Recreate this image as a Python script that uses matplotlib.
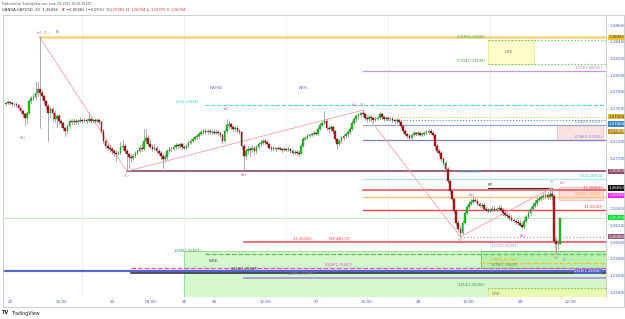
import matplotlib.pyplot as plt
from matplotlib.patches import Rectangle
import matplotlib.transforms as mtransforms

# ---- candle data (30 min bars, index 0 = June 22 00:00) ----
first_idx = -2
first_open = 1.27655
closes = [
    1.27663, 1.27675, 1.27663, 1.27651, 1.27655, 1.27639, 1.27604, 1.27568, 1.27532, 1.27485,
    1.27544, 1.27687, 1.27723, 1.27735, 1.27782, 1.27830, 1.27782, 1.27746, 1.27687, 1.27627,
    1.27544, 1.27592, 1.27544, 1.27473, 1.27508, 1.27449, 1.27425, 1.27365, 1.27330, 1.27389,
    1.27449, 1.27437, 1.27449, 1.27437, 1.27449, 1.27461, 1.27449, 1.27461, 1.27449, 1.27473,
    1.27449, 1.27461, 1.27449, 1.27461, 1.27437, 1.27330, 1.27211, 1.27151, 1.27127, 1.27115,
    1.27092, 1.27068, 1.27056, 1.27068, 1.27139, 1.27151, 1.27092, 1.27056, 1.27020, 1.27008,
    1.27032, 1.27068, 1.27092, 1.27127, 1.27115, 1.27211, 1.27246, 1.27175, 1.27139, 1.27115,
    1.27127, 1.27092, 1.27068, 1.27032, 1.26996, 1.27020, 1.27092, 1.27115, 1.27118, 1.27139,
    1.27163, 1.27151, 1.27175, 1.27139, 1.27127, 1.27151, 1.27187, 1.27211, 1.27235, 1.27258,
    1.27270, 1.27294, 1.27318, 1.27330, 1.27318, 1.27330, 1.27318, 1.27322, 1.27306, 1.27318,
    1.27306, 1.27282, 1.27211, 1.27330, 1.27401, 1.27413, 1.27377, 1.27354, 1.27365, 1.27330,
    1.27318, 1.27151, 1.27032, 1.27092, 1.27115, 1.27104, 1.27127, 1.27092, 1.27139, 1.27175,
    1.27187, 1.27211, 1.27199, 1.27175, 1.27127, 1.27115, 1.27127, 1.27115, 1.27127, 1.27115,
    1.27104, 1.27115, 1.27104, 1.27115, 1.27092, 1.27068, 1.27080, 1.27068, 1.27056, 1.27151,
    1.27235, 1.27246, 1.27270, 1.27282, 1.27294, 1.27306, 1.27294, 1.27354, 1.27401, 1.27425,
    1.27449, 1.27365, 1.27354, 1.27377, 1.27330, 1.27235, 1.27175, 1.27211, 1.27246, 1.27270,
    1.27294, 1.27318, 1.27354, 1.27425, 1.27473, 1.27508, 1.27520, 1.27544, 1.27532, 1.27485,
    1.27473, 1.27496, 1.27485, 1.27461, 1.27473, 1.27485, 1.27532, 1.27496, 1.27473, 1.27485,
    1.27473, 1.27478, 1.27461, 1.27449, 1.27461, 1.27437, 1.27389, 1.27330, 1.27294, 1.27270,
    1.27246, 1.27282, 1.27306, 1.27294, 1.27306, 1.27282, 1.27294, 1.27306, 1.27318, 1.27330,
    1.27306, 1.27282, 1.27151, 1.27092, 1.27068, 1.26996, 1.26949, 1.26877, 1.26734, 1.26615,
    1.26520, 1.26377, 1.26235, 1.26163, 1.26115, 1.26235, 1.26354, 1.26425, 1.26461, 1.26485,
    1.26508, 1.26496, 1.26461, 1.26437, 1.26449, 1.26401, 1.26389, 1.26377, 1.26389, 1.26401,
    1.26389, 1.26401, 1.26413, 1.26389, 1.26354, 1.26330, 1.26318, 1.26294, 1.26270, 1.26258,
    1.26246, 1.26235, 1.26211, 1.26187, 1.26258, 1.26306, 1.26354, 1.26401, 1.26437, 1.26473,
    1.26508, 1.26520, 1.26544, 1.26556, 1.26568, 1.26544, 1.26580, 1.26556, 1.26020, 1.25976,
    1.25983, 1.26294,
]
highs = [
    1.2768, 1.2770, 1.2769, 1.2768, 1.2767, 1.2767, 1.2765, 1.2762, 1.2758, 1.2755,
    1.2756, 1.2770, 1.2775, 1.2778, 1.2793, 1.2792, 1.28451, 1.2782, 1.2776, 1.2770,
    1.2765, 1.2762, 1.2762, 1.2757, 1.2753, 1.2753, 1.2747, 1.2744, 1.2738, 1.2741,
    1.2747, 1.2747, 1.2747, 1.2748, 1.2746, 1.2750, 1.2748, 1.2749, 1.2748, 1.2756,
    1.2749, 1.2748, 1.2748, 1.2749, 1.2748, 1.2745, 1.2735, 1.2723, 1.2718, 1.2716,
    1.2714, 1.2712, 1.2710, 1.2709, 1.2720, 1.2722, 1.2717, 1.2711, 1.2707, 1.2705,
    1.2706, 1.2709, 1.2712, 1.2716, 1.2718, 1.2735, 1.2736, 1.2728, 1.2722, 1.2717,
    1.2718, 1.2715, 1.2712, 1.2709, 1.2706, 1.2705, 1.2711, 1.2714, 1.2714, 1.2716,
    1.2719, 1.2718, 1.2719, 1.2719, 1.2716, 1.2717, 1.2721, 1.2723, 1.2726, 1.2728,
    1.2729, 1.2732, 1.2734, 1.2736, 1.2735, 1.2735, 1.2735, 1.2734, 1.2734, 1.2734,
    1.2734, 1.2732, 1.2729, 1.2735, 1.2747, 1.2745, 1.2743, 1.2740, 1.2739, 1.2739,
    1.2735, 1.2733, 1.2717, 1.2712, 1.2715, 1.2714, 1.2716, 1.2715, 1.2716, 1.2720,
    1.2722, 1.2724, 1.2723, 1.2722, 1.2719, 1.2715, 1.2715, 1.2714, 1.2715, 1.2714,
    1.2713, 1.2714, 1.2713, 1.2714, 1.2713, 1.2711, 1.2710, 1.2710, 1.2709, 1.2717,
    1.2726, 1.2727, 1.2729, 1.2730, 1.2731, 1.2733, 1.2733, 1.2738, 1.2743, 1.2745,
    1.2757, 1.2747, 1.2739, 1.2740, 1.2739, 1.2734, 1.2725, 1.2723, 1.2727, 1.2729,
    1.2731, 1.2734, 1.2738, 1.2745, 1.2750, 1.2753, 1.2755, 1.2756, 1.2758, 1.2755,
    1.2750, 1.2752, 1.2752, 1.2750, 1.2750, 1.2751, 1.2756, 1.2755, 1.2751, 1.2751,
    1.2750, 1.2750, 1.2750, 1.2748, 1.2749, 1.2748, 1.2745, 1.2740, 1.2735, 1.2731,
    1.2729, 1.2730, 1.2733, 1.2732, 1.2733, 1.2732, 1.2731, 1.2733, 1.2734, 1.2735,
    1.2735, 1.2733, 1.2730, 1.2717, 1.2712, 1.2709, 1.2702, 1.2697, 1.2690, 1.2675,
    1.2664, 1.2654, 1.2640, 1.2626, 1.2619, 1.2626, 1.2638, 1.2645, 1.2649, 1.2652,
    1.2655, 1.2653, 1.2652, 1.2648, 1.2647, 1.2647, 1.2642, 1.2641, 1.2641, 1.2643,
    1.2643, 1.2642, 1.2644, 1.2644, 1.2641, 1.2637, 1.2635, 1.2634, 1.2632, 1.2629,
    1.2628, 1.2627, 1.2626, 1.2623, 1.2628, 1.2633, 1.2638, 1.2643, 1.2647, 1.2650,
    1.2654, 1.2655, 1.2657, 1.2659, 1.2661, 1.2660, 1.2664, 1.26651, 1.2658, 1.2605,
    1.2603, 1.26294,
]
lows = [
    1.2764, 1.2765, 1.2765, 1.2763, 1.2763, 1.2762, 1.2759, 1.2755, 1.2750, 1.2740,
    1.2743, 1.2753, 1.2767, 1.2770, 1.2772, 1.2775, 1.2737, 1.2772, 1.2766, 1.2760,
    1.2721, 1.2750, 1.2745, 1.2744, 1.2738, 1.2742, 1.2738, 1.2734, 1.2727, 1.2731,
    1.2737, 1.2742, 1.2742, 1.2742, 1.2742, 1.2744, 1.2743, 1.2744, 1.2743, 1.2744,
    1.2743, 1.2744, 1.2743, 1.2744, 1.2742, 1.2731, 1.2719, 1.2713, 1.2710, 1.2708,
    1.2706, 1.2703, 1.2697, 1.2704, 1.2705, 1.2711, 1.2707, 1.26850, 1.2689, 1.2696,
    1.2699, 1.2702, 1.2705, 1.2708, 1.2709, 1.2710, 1.2719, 1.2715, 1.2711, 1.2709,
    1.2710, 1.2706, 1.2704, 1.2700, 1.2689, 1.2697, 1.2700, 1.2707, 1.2709, 1.2710,
    1.2712, 1.2713, 1.2713, 1.2712, 1.2711, 1.2711, 1.2714, 1.2717, 1.2720, 1.2722,
    1.2724, 1.2725, 1.2728, 1.2730, 1.2730, 1.2730, 1.2730, 1.2730, 1.2729, 1.2729,
    1.2728, 1.2726, 1.2719, 1.2720, 1.2731, 1.2737, 1.2735, 1.2733, 1.2733, 1.2731,
    1.2729, 1.2712, 1.2688, 1.2700, 1.2705, 1.2703, 1.2708, 1.2706, 1.2707, 1.2712,
    1.2715, 1.2717, 1.2718, 1.2715, 1.2711, 1.2709, 1.2710, 1.2709, 1.2710, 1.2710,
    1.2708, 1.2709, 1.2709, 1.2709, 1.2707, 1.2705, 1.2705, 1.2704, 1.2703, 1.2705,
    1.2714, 1.2722, 1.2723, 1.2726, 1.2727, 1.2728, 1.2728, 1.2728, 1.2734, 1.2739,
    1.2741, 1.2734, 1.2732, 1.2733, 1.2731, 1.2721, 1.2712, 1.2715, 1.2719, 1.2722,
    1.2725, 1.2726, 1.2730, 1.2734, 1.2741, 1.2744, 1.2748, 1.2750, 1.2750, 1.2746,
    1.2744, 1.2745, 1.2746, 1.2744, 1.2745, 1.2746, 1.2747, 1.2748, 1.2745, 1.2746,
    1.2746, 1.2746, 1.2744, 1.2743, 1.2743, 1.2742, 1.2737, 1.2731, 1.2727, 1.2725,
    1.2722, 1.2723, 1.2727, 1.2728, 1.2728, 1.2727, 1.2727, 1.2728, 1.2729, 1.2730,
    1.2729, 1.2726, 1.2713, 1.2707, 1.2704, 1.2697, 1.2692, 1.2685, 1.2671, 1.2659,
    1.2649, 1.2635, 1.2620, 1.2613, 1.26066, 1.2610, 1.2622, 1.2634, 1.2641, 1.2645,
    1.2647, 1.2648, 1.2644, 1.2642, 1.2642, 1.2638, 1.2637, 1.2636, 1.2636, 1.2637,
    1.2637, 1.2637, 1.2638, 1.2637, 1.2633, 1.2631, 1.2630, 1.2627, 1.2625, 1.2624,
    1.2622, 1.2621, 1.2619, 1.2616, 1.2617, 1.2624, 1.2629, 1.2633, 1.2638, 1.2642,
    1.2645, 1.2649, 1.2650, 1.2652, 1.2653, 1.2652, 1.2652, 1.2653, 1.2600, 1.25865,
    1.2592, 1.25979,
]

# ---- time axis ----
tick_idx = [0, 24, 48, 66, 82, 96, 120, 144, 168, 192, 216, 240, 264]
tick_lbl = ['22', '12:00', '23', '09:00', '25', '26', '12:00', '27', '12:00',
            '28', '12:00', '29', '12:00']
session_idx = [34, 82, 130, 178, 226]
price_ticks = [1.286, 1.284, 1.282, 1.280, 1.278, 1.276, 1.274, 1.272, 1.270,
               1.268, 1.266, 1.264, 1.262, 1.260, 1.258, 1.256, 1.254]
hidden_ticks = [1.274, 1.268, 1.266]   # covered by price tags

# ---- wave count zigzag ----
zig_idx = [14, 55, 166, 212, 255, 257]
zig_px = [1.28451, 1.26850, 1.27580, 1.26066, 1.26651, 1.25865]

# ---- horizontal levels: price, start idx, end idx, color, style, width ----
RIGHT = 281
levels = [
    (1.28451, 14, RIGHT, '#f6d37c', '-', 1.8),
    (1.28426, 225, RIGHT, '#66c266', ':', 0.9),
    (1.28138, 225, RIGHT, '#66c266', ':', 0.9),
    (1.28050, 166, RIGHT, '#c79bd8', '-', 0.9),
    (1.27641, 92, RIGHT, '#4dd8e8', '--', 0.8),
    (1.27504, 177, RIGHT, '#f0c060', ':', 0.8),
    (1.27464, 177, RIGHT, '#4a8fd8', ':', 0.8),
    (1.27404, 166, RIGHT, '#9aa6c6', '-', 0.9),
    (1.27225, 166, RIGHT, '#7c7fd6', '-', 0.9),
    (1.26850, 55, RIGHT, '#a06080', '-', 1.4),
    (1.26754, 166, RIGHT, '#a8e8f0', '-', 0.9),
    (1.26650, 225, 255, '#333333', '-', 0.8),
    (1.26619, 166, RIGHT, '#f0474f', '-', 1.1),
    (1.26547, 166, RIGHT, '#ffc070', '-', 1.0),
    (1.26387, 166, RIGHT, '#f0474f', '-', 1.0),
    (1.26294, -4, RIGHT, '#b6ecb6', '-', 0.6),
    (1.26066, 212, RIGHT, '#c8a0b0', ':', 0.9),
    (1.26006, 110, RIGHT, '#f0474f', '-', 1.1),
    (1.25857, 92, RIGHT, '#5cc45c', '--', 0.9),
    (1.25750, 221, RIGHT, '#ffb84d', '--', 0.9),
    (1.25687, 57, RIGHT, '#ee44ee', '--', 0.9),
    (1.25651, -4, RIGHT, '#5566d0', '-', 1.6),
    (1.25627, 57, RIGHT, '#333344', '-', 1.2),
    (1.25577, 110, RIGHT, '#b39ddb', '-', 1.4),
    (1.25455, 225, RIGHT, '#66c266', ':', 0.9),
]

# ---- level texts: idx, price, text, color, align ----
texts = [
    (224, 1.28438, '-0.618(1.28426)', '#3a9a3a', 'right'),
    (224, 1.28146, '-0.414(1.28138)', '#3a9a3a', 'right'),
    (279, 1.28060, '1.272(1.28050)', '#b07cc8', 'right'),
    (78, 1.27655, '0.5(1.27641)', '#22ccdd', 'left'),
    (279, 1.27414, '0.886(1.27404)', '#8090b8', 'right'),
    (279, 1.27235, '0.786(1.27225)', '#7c7fd6', 'right'),
    (211, 1.26815, '0.5(1.26754)', '#22ccdd', 'left'),
    (279, 1.26764, '0.5(1.26754)', '#22ccdd', 'right'),
    (279, 1.26625, '1(1.26619)', '#f0474f', 'right'),
    (279, 1.26553, '0.382(1.26547)', '#ff9f30', 'right'),
    (279, 1.26396, '1(1.26387)', '#f0474f', 'right'),
    (133, 1.26016, '1(1.26006)', '#f0474f', 'left'),
    (150, 1.26016, 'WR AB=CD', '#f0474f', 'left'),
    (226, 1.25935, '1.272(1.25992)', '#b07cc8', 'left'),
    (77, 1.25872, '1.618(1.25857)', '#3a9a3a', 'left'),
    (226, 1.25762, '0.382(1.25750)', '#ff9f30', 'left'),
    (226, 1.25700, '1.618(1.25694)', '#3a9a3a', 'left'),
    (148, 1.25700, '0.618(1.25687)', '#ee44ee', 'left'),
    (104, 1.25660, '2.618(1.25627)', '#333344', 'left'),
    (130, 1.25590, '1.272(1.25577)', '#9a7cc8', 'left'),
    (224, 1.25466, '1.414(1.25455)', '#3a9a3a', 'right'),
]

# ---- wave labels: idx, price, text, color ----
MAG = '#c44fc4'
wave_labels = [
    (14, 1.28504, '(c)', MAG), (17, 1.28504, '(1)', '#e0a040'),
    (22, 1.28514, 'B', '#5c6bc0'), (6, 1.27250, '(b)', MAG),
    (55, 1.26790, '(1)', '#999999'), (102, 1.27590, '(a)', MAG),
    (110, 1.26800, '(b)', MAG), (162, 1.27640, '(c)', MAG),
    (166, 1.27640, '(2)', '#999999'), (217, 1.26570, '(a)', MAG),
    (255, 1.26720, '(i)', '#999999'), (260, 1.26710, '(c)', MAG),
    (241, 1.26080, '(b)', MAG), (212, 1.26030, '(ii)', '#999999'),
    (257, 1.25810, '(ii)', '#999999'), (261, 1.25790, 'C.', '#5c6bc0'),
    (226, 1.26680, 'PP', '#333333'), (96, 1.25780, 'WRE', '#444444'),
    (97, 1.27850, 'NRHID', '#5c6bc0'), (138, 1.27850, 'NRH', '#5c6bc0'),
]

# ---- axis tags: price, text, background, text colour ----
tags = [
    (1.28451, '1.28451', '#f2c230', '#333333'),
    (1.27504, '1.27504', '#e8b830', '#333333'),
    (1.27464, '1.27464', '#3d85c6', 'white'),
    (1.27458, '1.27458', '#c09020', 'white'),
    (1.26850, '1.26850', '#8e4a66', 'white'),
    (1.26650, '1.26650', '#111111', 'white'),
    (1.26566, '1.26566', '#ff22ff', 'white'),
    (1.26294, '1.26294', '#00dd22', 'white'),
    (1.26066, '1.26066', '#9a5a7a', 'white'),
]

fig = plt.figure(figsize=(6.25, 3.19), dpi=100)
ax = fig.add_axes([3 / 625, 22 / 319, 603 / 625, 282 / 319])
ax.set_xlim(-3.3, 280.5)
ax.set_ylim(1.25344, 1.28720)

for s in session_idx:
    ax.axvline(s, color='#e6edf7', lw=0.6, zorder=0)

# zones
ax.add_patch(Rectangle((82, 1.2530), RIGHT - 82, 1.25900 - 1.2530,
                       facecolor='#d4f8cc', edgecolor='#90dd90', lw=0.6, zorder=0.5))
ax.add_patch(Rectangle((221.5, 1.25691), RIGHT - 221.5, 1.25900 - 1.25691,
                       facecolor='#b8f0ac', edgecolor='#70c070', lw=0.6, zorder=0.6))
ax.add_patch(Rectangle((225, 1.2530), RIGHT - 225, 1.25455 - 1.2530,
                       facecolor='#e8fab0', edgecolor='#d8ee88', lw=0.6, zorder=0.7))
ax.add_patch(Rectangle((225, 1.28138), 21.5, 1.28426 - 1.28138,
                       facecolor='#ffffcc', edgecolor='#f0ee80', lw=0.6, zorder=0.7))
ax.add_patch(Rectangle((257.5, 1.27225), 21.5, 1.27404 - 1.27225,
                       facecolor='#fbe2e2', edgecolor='#f0b0b0', lw=0.5, zorder=0.7))
ax.add_patch(Rectangle((258.5, 1.26500), 20.5, 1.26660 - 1.26500,
                       facecolor='#fcdede', edgecolor='#f0b0b0', lw=0.5, zorder=0.7))
ax.text(235, 1.28282, 'DRE', fontsize=3, color='#777777', ha='center', va='center')
ax.text(227, 1.25385, 'DRE', fontsize=3, color='#777777', style='italic', va='center')

for p, x0, x1, c, ls, w in levels:
    ax.plot([x0, x1], [p, p], color=c, ls=ls, lw=w, zorder=1)

for x, p, t, c, ha in texts:
    ax.text(x, p, t, fontsize=2.6, color=c, ha=ha, va='bottom', zorder=3)

ax.plot(zig_idx, zig_px, color='#f5a0a0', lw=0.6, zorder=2)

# candles
prev = first_open
for k, (c, h, l) in enumerate(zip(closes, highs, lows)):
    i = first_idx + k
    o = prev
    up = c >= o
    ax.plot([i, i], [l, h], color='#8a8a8a', lw=0.5, zorder=4)
    body = max(abs(c - o), 0.000025)
    ax.add_patch(Rectangle((i - 0.4, min(o, c)), 0.8, body,
                           facecolor='#18c818' if up else '#b8141c',
                           edgecolor='#1a7a1a' if up else '#6a0a0a',
                           lw=0.25, zorder=5))
    prev = c

for x, p, t, c in wave_labels:
    ax.text(x, p, t, fontsize=3.0, color=c, ha='center', va='center', zorder=6)

# blue info box at right end
ax.text(278.5, 1.25651, '2.618(1.25636)', fontsize=2.6, color='white', ha='right',
        va='center', zorder=6,
        bbox=dict(boxstyle='square,pad=0.15', fc='#5560c8', ec='none'))

# axes styling
for sp in ['top', 'left', 'bottom']:
    ax.spines[sp].set_visible(False)
ax.spines['right'].set_color('#c8c8c8')
ax.spines['right'].set_linewidth(0.6)
ax.yaxis.tick_right()
ax.set_yticks(price_ticks)
ax.set_yticklabels(['' if v in hidden_ticks else '%.5f' % v for v in price_ticks])
ax.tick_params(axis='y', labelsize=3.0, labelcolor='#4a5cc0', color='#c8c8c8',
               length=1.5, width=0.4, pad=1)
ax.set_xticks(tick_idx)
ax.set_xticklabels(tick_lbl)
ax.tick_params(axis='x', labelsize=3.0, labelcolor='#4a5cc0', color='#c8c8c8',
               length=1.5, width=0.4, pad=1)

# axis tags, pushed apart when they collide
trans = mtransforms.blended_transform_factory(ax.transAxes, ax.transData)
min_gap = 7.4 / 8353
last = None
for p, t, bg, fg in sorted(tags, key=lambda r: -r[0]):
    y = p if last is None else min(p, last - min_gap)
    last = y
    ax.text(1.004, y, t, transform=trans, fontsize=2.8, color=fg, ha='left',
            va='center', zorder=10, clip_on=False,
            bbox=dict(boxstyle='square,pad=0.18', fc=bg, ec='none'))

# frame, header and footer
fig.patches.append(Rectangle((3 / 625, 1 - 307 / 319), 621 / 625, 292 / 319,
                             transform=fig.transFigure, fill=False,
                             ec='#c8c8c8', lw=0.6))
fig.text(2 / 625, 1 - 4 / 319, 'Published on TradingView.com, June 29, 2023 10:26:30 EDT',
         fontsize=2.2, color='#555555', va='center')
head = [(2, 'OANDA:GBPUSD, 30  1.26294', '#333333'), (62, '\u25bc', '#e53935'),
        (66, '\u22120.00065 (\u22120.05%)  O:', '#333333'), (110, '1.25983', '#e53935'),
        (126, 'H:', '#333333'), (131, '1.26294', '#e53935'), (147, 'L:', '#333333'),
        (151, '1.25979', '#e53935'), (167, 'C:', '#333333'), (171, '1.26294', '#e53935')]
for x, t, c in head:
    fig.text(x / 625, 1 - 10 / 319, t, fontsize=2.7, color=c, va='center')
fig.text(2 / 625, 1 - 313 / 319, 'TV', fontsize=3.6, color='#222222',
         weight='bold', va='center')
fig.text(12 / 625, 1 - 313 / 319, 'TradingView', fontsize=3.4, color='#222222',
         va='center')

fig.savefig('out.png', dpi=100)
